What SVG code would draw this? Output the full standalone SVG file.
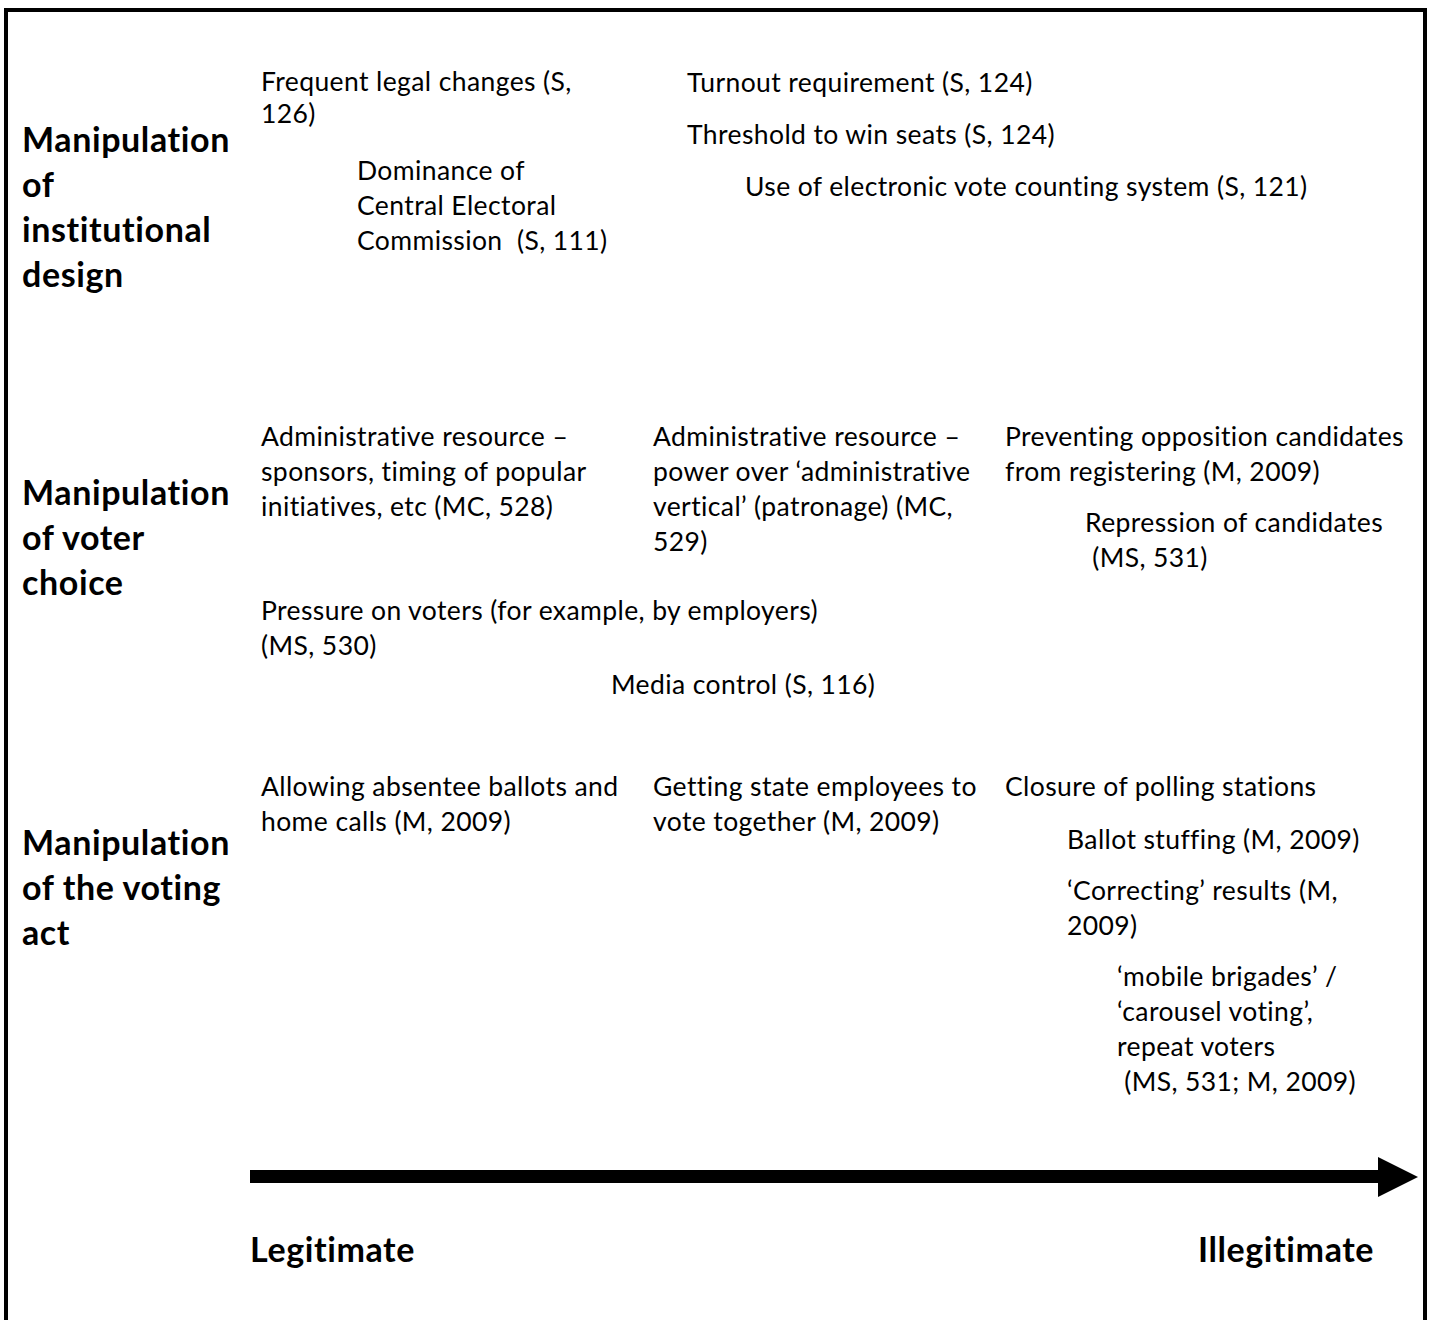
<svg xmlns="http://www.w3.org/2000/svg" width="1432" height="1320" viewBox="0 0 1432 1320" xml:space="preserve">
<style>
.t{font-family:Lato,"Liberation Sans",sans-serif;font-size:26.5px;letter-spacing:0.4px;fill:#000;white-space:pre}
.h{font-family:Lato,"Liberation Sans",sans-serif;font-size:34px;letter-spacing:0.6px;font-weight:bold;fill:#000}
</style>
<rect x="0" y="0" width="1432" height="1320" fill="#fff"/>
<rect id="frame" x="6" y="10" width="1419" height="1340" fill="none" stroke="#000" stroke-width="4"/>
<g id="row-labels">
<g id="lbl-institutional"><text class="h" x="22" y="152">Manipulation</text><text class="h" x="22" y="197">of</text><text class="h" x="22" y="242">institutional</text><text class="h" x="22" y="287">design</text></g>
<g id="lbl-voter"><text class="h" x="22" y="505">Manipulation</text><text class="h" x="22" y="550">of voter</text><text class="h" x="22" y="595">choice</text></g>
<g id="lbl-act"><text class="h" x="22" y="855">Manipulation</text><text class="h" x="22" y="900">of the voting</text><text class="h" x="22" y="945">act</text></g>
</g>
<g id="n-frequent"><text class="t" x="261" y="91">Frequent legal changes (S,</text><text class="t" x="261" y="123">126)</text></g>
<g id="n-dominance"><text class="t" x="357" y="180">Dominance of</text><text class="t" x="357" y="215">Central Electoral</text><text class="t" x="357" y="250">Commission  (S, 111)</text></g>
<g id="n-turnout"><text class="t" x="687" y="92">Turnout requirement (S, 124)</text></g>
<g id="n-threshold"><text class="t" x="687" y="144">Threshold to win seats (S, 124)</text></g>
<g id="n-electronic"><text class="t" x="745" y="196">Use of electronic vote counting system (S, 121)</text></g>
<g id="n-admin1"><text class="t" x="261" y="446">Administrative resource –</text><text class="t" x="261" y="481">sponsors, timing of popular</text><text class="t" x="261" y="516">initiatives, etc (MC, 528)</text></g>
<g id="n-admin2"><text class="t" x="653" y="446">Administrative resource –</text><text class="t" x="653" y="481">power over ‘administrative</text><text class="t" x="653" y="516">vertical’ (patronage) (MC,</text><text class="t" x="653" y="551">529)</text></g>
<g id="n-preventing"><text class="t" x="1005" y="446">Preventing opposition candidates</text><text class="t" x="1005" y="481">from registering (M, 2009)</text></g>
<g id="n-repression"><text class="t" x="1085" y="532">Repression of candidates</text><text class="t" x="1085" y="567"> (MS, 531)</text></g>
<g id="n-pressure"><text class="t" x="261" y="620">Pressure on voters (for example, by employers)</text><text class="t" x="261" y="655">(MS, 530)</text></g>
<g id="n-media"><text class="t" x="611" y="694">Media control (S, 116)</text></g>
<g id="n-absentee"><text class="t" x="261" y="796">Allowing absentee ballots and</text><text class="t" x="261" y="831">home calls (M, 2009)</text></g>
<g id="n-state"><text class="t" x="653" y="796">Getting state employees to</text><text class="t" x="653" y="831">vote together (M, 2009)</text></g>
<g id="n-closure"><text class="t" x="1005" y="796">Closure of polling stations</text></g>
<g id="n-ballot"><text class="t" x="1067" y="849">Ballot stuffing (M, 2009)</text></g>
<g id="n-correcting"><text class="t" x="1067" y="900">‘Correcting’ results (M,</text><text class="t" x="1067" y="935">2009)</text></g>
<g id="n-mobile"><text class="t" x="1117" y="986">‘mobile brigades’ /</text><text class="t" x="1117" y="1021">‘carousel voting’,</text><text class="t" x="1117" y="1056">repeat voters</text><text class="t" x="1117" y="1091"> (MS, 531; M, 2009)</text></g>
<g id="connectors">
<polygon points="250,1170 1378,1170 1378,1157 1418,1177 1378,1197 1378,1183 250,1183" fill="#000"/>
</g>
<g id="axis-labels">
<text class="h" x="250" y="1262">Legitimate</text>
<text class="h" x="1198" y="1262">Illegitimate</text>
</g>
</svg>
